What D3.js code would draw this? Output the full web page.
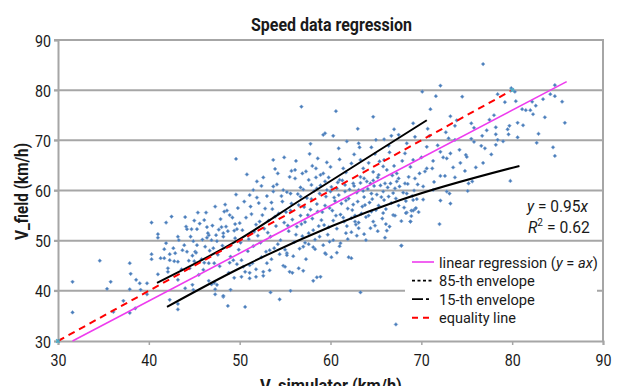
<!DOCTYPE html>
<html>
<head>
<meta charset="utf-8">
<script src="https://cdnjs.cloudflare.com/ajax/libs/d3/7.8.5/d3.min.js"></script>
<style>
  body { margin: 0; background: #fff; }
  svg { display: block; font-family: "Roboto", "Liberation Sans", sans-serif; }
</style>
</head>
<body>
<div id="chart"></div>
<script>
// axis ticks
const xTicks = [30, 40, 50, 60, 70, 80, 90];
const yTicks = [30, 40, 50, 60, 70, 80, 90];

// measured speeds [V_simulator, V_field]
const fieldPoints = [
  [31.6, 41.8], [31.6, 35.7], [34.6, 46.0], [35.8, 41.8], [35.4, 40.4], [37.2, 38.0], [36.1, 35.8],
  [37.9, 45.5], [37.9, 35.6], [38.0, 43.4], [38.6, 42.2], [39.0, 41.5], [37.9, 40.3], [38.5, 36.5],
  [39.1, 40.2], [39.8, 41.5], [39.8, 39.3], [40.3, 53.6], [41.0, 51.3], [41.0, 50.6], [41.9, 53.6],
  [42.5, 54.8], [44.0, 54.7], [40.3, 47.3], [40.3, 46.3], [41.0, 43.3], [41.3, 46.5], [41.7, 46.5],
  [42.1, 44.5], [42.1, 43.8], [42.3, 46.1], [42.8, 45.9], [42.7, 48.5], [43.2, 45.8], [43.2, 50.8],
  [43.9, 49.1], [44.2, 52.3], [44.7, 52.3], [45.3, 52.3], [46.4, 52.7], [46.6, 51.1], [44.9, 49.9],
  [45.3, 49.1], [44.2, 47.8], [43.2, 42.2], [44.0, 40.5], [44.8, 41.2], [44.9, 40.2], [43.2, 36.3],
  [43.2, 37.4], [42.3, 38.2], [46.2, 48.8], [46.6, 45.5], [47.2, 45.5], [46.6, 42.0], [46.9, 41.3],
  [47.3, 40.3], [47.3, 39.3], [48.2, 38.8], [48.7, 37.0], [46.1, 54.1], [46.5, 51.5], [46.9, 50.1],
  [47.4, 51.1], [47.5, 49.9], [48.0, 52.7], [48.2, 51.5], [48.2, 50.8], [48.5, 52.8], [48.9, 55.1],
  [48.6, 56.0], [49.5, 53.3], [49.7, 52.3], [49.3, 46.1], [49.4, 42.6], [48.9, 45.6], [47.2, 41.6],
  [47.5, 41.2], [48.2, 39.0], [49.0, 40.2], [50.0, 53.5], [44.8, 47.0], [44.5, 44.5], [45.0, 45.9],
  [45.5, 43.2], [46.1, 45.6], [43.3, 50.1], [41.7, 48.3], [41.9, 49.5], [42.3, 47.3], [42.9, 47.5],
  [43.7, 48.1], [45.1, 47.8], [49.6, 66.3], [49.6, 59.2],
  [56.8, 76.7], [60.6, 75.8], [64.7, 74.7], [63.0, 72.3], [59.2, 71.1], [59.4, 71.4], [60.3, 70.9],
  [69.1, 73.4], [67.0, 72.2], [67.5, 71.1], [65.0, 70.1], [65.9, 70.2], [66.7, 70.9], [63.1, 69.4],
  [63.2, 68.6], [64.5, 68.6], [68.4, 69.4], [69.3, 70.7], [50.8, 63.2], [53.7, 66.1], [54.9, 66.6],
  [54.2, 63.4], [55.7, 63.9], [56.1, 64.1], [56.9, 63.4], [57.7, 67.3], [58.0, 64.9], [58.4, 64.4],
  [57.6, 62.1], [58.4, 62.6], [58.9, 63.1], [59.2, 63.4], [60.0, 64.7], [59.8, 62.6], [59.4, 61.8],
  [61.0, 66.2], [61.4, 64.4], [61.7, 63.6], [62.3, 65.4], [63.3, 66.1], [63.6, 64.4], [63.3, 62.7],
  [63.7, 62.4], [64.4, 61.4], [64.9, 67.3], [65.4, 65.8], [65.8, 64.8], [66.2, 64.1], [65.9, 66.1],
  [67.0, 64.9], [67.3, 63.4], [67.5, 62.4], [68.2, 67.4], [68.8, 64.7], [69.3, 62.4], [69.1, 66.1],
  [66.6, 61.4], [65.3, 63.1], [64.7, 63.7], [62.5, 61.4], [61.6, 61.1], [61.0, 62.1], [57.9, 61.1],
  [58.5, 60.4], [56.7, 60.6], [55.6, 59.4], [53.7, 60.8], [52.4, 60.9], [51.5, 60.1], [51.1, 59.1],
  [53.7, 59.8], [54.8, 60.1], [56.7, 58.8], [60.0, 59.8], [60.7, 60.4], [63.1, 60.1], [64.5, 59.4],
  [65.8, 59.8], [67.1, 60.4], [68.4, 59.4],
  [76.8, 85.2], [72.1, 80.9], [70.1, 79.7], [71.6, 78.8], [74.5, 78.7], [78.4, 79.2], [79.9, 80.4],
  [80.3, 79.7], [79.2, 77.6], [80.4, 77.8], [84.7, 81.0], [84.2, 79.2], [84.7, 78.8], [85.5, 77.7],
  [83.4, 78.2], [82.2, 77.7], [81.1, 76.2], [81.5, 76.0], [82.0, 76.0], [82.6, 76.9], [82.3, 75.2],
  [71.0, 76.2], [73.2, 74.8], [78.0, 75.0], [73.9, 74.0], [73.7, 72.9], [75.5, 73.4], [75.8, 72.5],
  [85.8, 73.5], [80.6, 73.5], [77.2, 72.0], [78.2, 72.6], [79.5, 72.2], [79.7, 72.9], [79.6, 71.2],
  [78.2, 71.2], [76.7, 70.9], [80.6, 70.6], [82.9, 71.3], [82.7, 69.5], [84.5, 68.6], [84.7, 66.9],
  [78.4, 70.1], [78.2, 69.1], [75.5, 70.3], [75.8, 69.7], [76.6, 68.9], [77.0, 68.4], [76.8, 65.5],
  [74.9, 67.1], [75.0, 66.7], [74.3, 65.5], [73.2, 67.4], [73.7, 70.1], [73.0, 70.4], [70.6, 68.7],
  [72.1, 67.7], [72.4, 66.6], [72.8, 66.4], [71.3, 65.9], [70.6, 64.4], [74.8, 63.9], [72.6, 62.9],
  [72.1, 62.9], [73.7, 62.6], [70.4, 63.8], [71.2, 64.4],
  [68.2, 61.4], [70.2, 60.8], [71.3, 60.1], [72.8, 59.8], [73.1, 59.4], [75.2, 61.4], [75.6, 61.8],
  [79.8, 61.9], [69.1, 58.1], [70.2, 58.2], [72.1, 58.0], [73.2, 57.4], [68.4, 55.6], [68.9, 56.0],
  [69.3, 56.3], [69.7, 55.7], [68.8, 53.8], [72.0, 53.3], [67.8, 49.0],
  [50.6, 36.8], [53.4, 39.7], [54.4, 38.3], [55.6, 40.0], [63.3, 39.7], [67.2, 33.3], [58.1, 42.0],
  [58.9, 42.8], [55.5, 43.8], [55.8, 43.6], [57.0, 44.0], [56.5, 44.5], [54.8, 45.0], [55.0, 44.8],
  [52.6, 43.0], [51.8, 42.8], [51.1, 42.5], [50.2, 42.8], [51.1, 43.6], [51.8, 44.3], [50.2, 46.1],
  [50.4, 44.8], [51.1, 45.1], [53.5, 46.3], [55.2, 47.5], [55.2, 47.1], [58.1, 48.7], [58.3, 48.3],
  [59.5, 47.3], [60.1, 46.7], [60.7, 47.6], [62.0, 46.7], [62.3, 46.5], [66.0, 50.6], [67.8, 49.0],
  [64.4, 52.5], [63.1, 52.5], [64.7, 53.8], [66.1, 53.3], [66.9, 55.1], [68.3, 55.5], [68.8, 53.8],
  [69.1, 56.0], [69.4, 56.5], [63.7, 51.3], [62.3, 54.5], [62.7, 53.8], [61.1, 49.5], [60.3, 50.1],
  [61.7, 51.5], [58.5, 42.7], [57.6, 49.3], [57.0, 48.8], [57.2, 49.6], [59.2, 49.1], [59.4, 47.5],
  [53.0, 45.5], [53.3, 44.1], [52.6, 43.8], [51.4, 45.5], [50.6, 43.8],
  [50.3, 52.1], [50.7, 54.6], [51.0, 50.3], [51.2, 56.8], [51.5, 48.9], [51.8, 53.2], [52.0, 51.0],
  [52.1, 57.5], [52.3, 49.6], [52.5, 55.1], [52.7, 52.4], [52.9, 47.8], [53.0, 58.9], [53.2, 54.0],
  [53.4, 50.8], [53.6, 56.3], [53.8, 48.5], [54.0, 52.9], [54.1, 61.2], [54.3, 55.4], [54.5, 50.1],
  [54.7, 57.8], [54.9, 53.6], [55.0, 48.2], [55.2, 59.7], [55.4, 51.9], [55.6, 56.0], [55.8, 54.2],
  [56.0, 49.7], [56.1, 62.4], [56.3, 52.8], [56.5, 57.1], [56.7, 55.0], [56.9, 50.9], [57.0, 60.2],
  [57.2, 53.7], [57.4, 58.5], [57.6, 51.5], [57.8, 56.2], [58.0, 54.4], [58.2, 59.9], [58.3, 50.2],
  [58.5, 57.3], [58.7, 52.9], [58.9, 61.0], [59.1, 55.7], [59.3, 53.1], [59.5, 58.8], [59.7, 51.2],
  [59.9, 56.5], [60.1, 60.7], [60.3, 54.0], [60.5, 57.9], [60.7, 52.4], [60.9, 59.1], [61.1, 55.2],
  [61.3, 62.0], [61.5, 53.8], [61.7, 58.0], [61.9, 56.4], [62.1, 60.2], [62.3, 51.7], [62.5, 57.2],
  [62.7, 55.0], [62.9, 59.6], [63.1, 53.6], [63.3, 61.5], [63.5, 56.8], [63.7, 58.7], [63.9, 54.7],
  [64.1, 60.3], [64.3, 57.6], [64.5, 55.8], [64.7, 62.0], [64.9, 53.0], [65.1, 59.2], [65.3, 57.0],
  [65.5, 61.0], [65.7, 54.4], [65.9, 58.1], [66.1, 56.3], [66.3, 60.6], [66.5, 52.8], [66.7, 57.5],
  [66.9, 59.5], [67.1, 55.0], [67.3, 61.8], [67.5, 57.0], [67.8, 53.9], [68.0, 59.6], [68.3, 57.9],
  [68.6, 62.7], [68.9, 54.9], [69.2, 60.0], [69.5, 58.3], [69.8, 63.4],
  [45.2, 47.6], [45.6, 53.4], [45.9, 50.2], [46.3, 55.6], [46.7, 48.0], [47.0, 53.0], [47.3, 56.8],
  [47.6, 47.2], [47.9, 54.3], [48.1, 49.0], [48.4, 57.2], [48.7, 51.9], [49.0, 46.8], [49.2, 54.6],
  [49.5, 50.5], [49.8, 56.5], [49.9, 48.2], [46.0, 44.2], [47.8, 44.9], [48.8, 43.6], [45.0, 54.0],
  [44.6, 50.8],
  [50.5, 57.8], [51.3, 55.3], [51.9, 58.6], [52.2, 53.8], [52.8, 56.4], [53.1, 51.6], [53.5, 57.6],
  [53.9, 54.8], [54.2, 49.3], [54.6, 58.9], [55.1, 55.7], [55.3, 53.0], [55.7, 57.4], [56.2, 51.2],
  [56.4, 59.3], [56.8, 53.3], [57.1, 56.7], [57.5, 55.1], [57.9, 58.3], [58.1, 52.1], [58.6, 55.8],
  [58.8, 59.4], [59.0, 54.1], [59.4, 57.0], [59.6, 60.1], [59.8, 52.7], [60.2, 56.0], [60.4, 58.6],
  [60.6, 55.0], [60.8, 61.6], [61.2, 57.4], [61.4, 54.6], [61.6, 59.8], [61.8, 52.9], [62.0, 58.4],
  [62.4, 56.1], [62.6, 60.9], [62.8, 53.2], [63.0, 57.8], [63.4, 55.4], [63.6, 59.9], [63.8, 57.1],
  [64.0, 61.8], [64.2, 55.0], [64.6, 58.3], [64.8, 60.9], [65.0, 56.1], [65.2, 62.6], [65.6, 58.7],
  [65.8, 55.5], [66.0, 61.4], [66.4, 58.8], [66.8, 63.0], [67.2, 58.4], [67.6, 60.8], [68.1, 56.6],
  [68.5, 61.3], [69.0, 58.9], [69.6, 61.2], [50.1, 49.6], [50.9, 47.9], [51.6, 51.8], [52.4, 46.7],
  [53.3, 48.1], [54.4, 47.3], [55.9, 46.9], [56.6, 48.4], [57.3, 46.3], [58.8, 50.8], [59.9, 49.8],
  [61.0, 48.9], [61.9, 50.3], [62.9, 51.0], [63.9, 50.1], [65.2, 51.9], [66.2, 52.0], [47.1, 48.5],
  [47.7, 52.2], [48.3, 55.8], [48.9, 48.9], [49.4, 52.0], [49.7, 45.3], [46.4, 50.6], [45.8, 46.3],
  [44.4, 46.0], [43.6, 44.3], [44.1, 52.8], [45.4, 55.6], [55.5, 62.7], [57.3, 63.8], [59.6, 65.6],
  [62.6, 67.2], [60.9, 68.4], [58.6, 66.4], [64.2, 65.5], [66.5, 67.6], [67.9, 65.9], [52.6, 62.6],
  [53.9, 64.3], [56.2, 65.9], [51.9, 61.8], [57.8, 69.3], [61.8, 69.8], [66.4, 68.9], [70.9, 70.9],
  [71.8, 69.0], [72.7, 71.6], [74.2, 68.1], [76.0, 64.6], [77.7, 67.2], [71.4, 61.7], [73.5, 64.6],
  [75.1, 59.9], [70.0, 66.6], [70.7, 72.3], [77.5, 74.1], [79.0, 69.8], [81.2, 73.0], [83.6, 74.6]
];

// fitted and reference lines
const regressionLine = [[31.6, 30.0], [86.0, 81.7]];
const envelope85 = [[40.9, 41.6], [50.0, 50.3], [56.7, 58.1], [70.6, 74.0]];
const envelope15 = [[42.0, 36.8], [50.0, 44.5], [67.7, 58.1], [80.8, 64.9]];
const equalityLine = [[30, 30], [80, 80]];

const legendLabels = ['linear regression (y = ax)', '85-th envelope', '15-th envelope', 'equality line'];

const width = 627, height = 386;
const x = d3.scaleLinear().domain([30, 90]).range([58, 603]);
const y = d3.scaleLinear().domain([30, 90]).range([341, 40]);
const grid = '#a6a6a6';
const ink = '#1a1a1a';

const svg = d3.select('#chart').append('svg')
  .attr('width', width)
  .attr('height', height);

// squeeze a text horizontally to the width it has in the original (narrow font)
function narrowText(parent, tx, ty, targetWidth, size, weight) {
  const g = parent.append('g').attr('transform', `translate(${tx},${ty})`);
  const t = g.append('text')
    .style('font-size', size + 'px')
    .style('font-weight', weight || 'normal')
    .attr('fill', ink);
  t.fit = () => {
    const w = t.node().getComputedTextLength();
    g.attr('transform', `translate(${tx},${ty}) scale(${targetWidth / w},1)`);
  };
  return t;
}

// gridlines + frame
svg.append('g')
  .selectAll('line')
  .data(yTicks.slice(1))
  .enter().append('line')
  .attr('x1', x(30) - 4).attr('x2', x(90))
  .attr('y1', d => y(d)).attr('y2', d => y(d))
  .attr('stroke', grid).attr('stroke-width', 2);

svg.append('line')
  .attr('x1', x(90)).attr('x2', x(90)).attr('y1', y(90) - 1).attr('y2', y(30))
  .attr('stroke', grid).attr('stroke-width', 2);

// axes
const xAxis = d3.axisBottom(x).tickValues(xTicks).tickSize(4).tickPadding(9).tickFormat(d3.format('d'));
const yAxis = d3.axisLeft(y).tickValues(yTicks).tickSize(4).tickPadding(3).tickFormat(d3.format('d'));

const xg = svg.append('g').attr('transform', `translate(0,${y(30)})`).call(xAxis);
const yg = svg.append('g').attr('transform', `translate(${x(30)},0)`).call(yAxis);

[xg, yg].forEach(g => {
  g.select('.domain').attr('stroke', grid).attr('stroke-width', 2);
  g.selectAll('.tick line').attr('stroke', grid).attr('stroke-width', 1.5);
  g.selectAll('.tick text')
    .attr('fill', ink)
    .style('font-size', '17px')
    .attr('font-family', 'Roboto')
    .attr('textLength', 16)
    .attr('lengthAdjust', 'spacingAndGlyphs');
});
yg.selectAll('.tick text').attr('dy', '0.36em');

// scatter
svg.append('g')
  .selectAll('path')
  .data(fieldPoints)
  .enter().append('path')
  .attr('d', d3.symbol(d3.symbolSquare, 7))
  .attr('transform', d => `translate(${x(d[0])},${y(d[1])}) rotate(45)`)
  .attr('fill', '#4a7ebb')
  .attr('stroke', '#86a8d4')
  .attr('stroke-width', 0.5);

const line = d3.line().x(d => x(d[0])).y(d => y(d[1]));

svg.append('path').datum(envelope85)
  .attr('d', line.curve(d3.curveMonotoneX))
  .attr('fill', 'none').attr('stroke', '#000').attr('stroke-width', 2);

svg.append('path').datum(envelope15)
  .attr('d', line.curve(d3.curveMonotoneX))
  .attr('fill', 'none').attr('stroke', '#000').attr('stroke-width', 2);

svg.append('path').datum(regressionLine)
  .attr('d', line.curve(d3.curveLinear))
  .attr('fill', 'none').attr('stroke', '#ee3cee').attr('stroke-width', 1.6);

svg.append('path').datum(equalityLine)
  .attr('d', line.curve(d3.curveLinear))
  .attr('fill', 'none').attr('stroke', '#ff0000').attr('stroke-width', 2)
  .attr('stroke-dasharray', '7,5');

// small markers at equality line ends
svg.append('g')
  .selectAll('path')
  .data(equalityLine)
  .enter().append('path')
  .attr('d', d3.symbol(d3.symbolCross, 14))
  .attr('transform', d => `translate(${x(d[0])},${y(d[1])}) rotate(45)`)
  .attr('fill', '#4bacc6');

// title + axis labels
const title = narrowText(svg, 251, 31, 161, 18, 'bold');
title.text('Speed data regression');
title.fit();

const xLabel = narrowText(svg, 260, 392, 142, 18, 'bold');
xLabel.text('V_simulator (km/h)');
xLabel.fit();

svg.append('text')
  .attr('transform', 'translate(28,240) rotate(-90)')
  .attr('textLength', 97).attr('lengthAdjust', 'spacingAndGlyphs')
  .style('font-size', '18px').style('font-weight', 'bold')
  .attr('fill', ink)
  .text('V_field (km/h)');

// equation
const eq = narrowText(svg, 527, 212, 61, 17);
eq.append('tspan').style('font-style', 'italic').text('y');
eq.append('tspan').text(' = 0.95');
eq.append('tspan').style('font-style', 'italic').text('x');
eq.fit();

const r2 = narrowText(svg, 528, 233, 62, 17);
r2.append('tspan').style('font-style', 'italic').text('R');
r2.append('tspan').attr('dy', -7).style('font-size', '11px').text('2');
r2.append('tspan').attr('dy', 7).text(' = 0.62');
r2.fit();

// legend
const legend = svg.append('g');
legend.append('rect')
  .attr('x', 405).attr('y', 249).attr('width', 192).attr('height', 82)
  .attr('fill', '#fff');

const legendStyles = [
  { stroke: '#ee3cee', dash: null, w: 1.6, len: 159 },
  { stroke: '#000', dash: '3,2.5', w: 1.6, len: 96 },
  { stroke: '#000', dash: '11,3,3,10', w: 1.8, len: 96 },
  { stroke: '#ff0000', dash: '6,5', w: 2, len: 77 }
];

legendLabels.forEach((label, i) => {
  const ly = 262 + i * 18.6;
  legend.append('line')
    .attr('x1', 412).attr('x2', 434).attr('y1', ly).attr('y2', ly)
    .attr('stroke', legendStyles[i].stroke)
    .attr('stroke-width', legendStyles[i].w)
    .attr('stroke-dasharray', legendStyles[i].dash);

  const t = narrowText(legend, 439, ly + 5.5, legendStyles[i].len, 15);
  if (i === 0) {
    t.append('tspan').text('linear regression (');
    t.append('tspan').style('font-style', 'italic').text('y');
    t.append('tspan').text(' = ');
    t.append('tspan').style('font-style', 'italic').text('ax');
    t.append('tspan').text(')');
  } else {
    t.text(label);
  }
  t.fit();
});
</script>
</body>
</html>
